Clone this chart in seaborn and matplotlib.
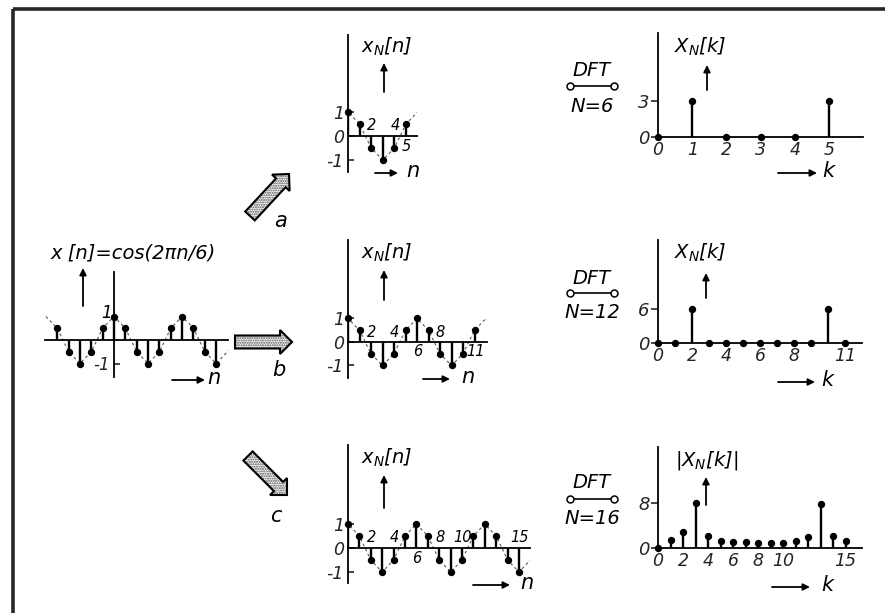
import numpy as np
import pandas as pd
import matplotlib
matplotlib.use("Agg")
import matplotlib.pyplot as plt
from matplotlib.patches import FancyArrow
import seaborn as sns

# ---------------- data ----------------
n_all = list(range(-6, 17))
x_all = [1, .5, -.5, -1, -.5, .5, 1, .5, -.5, -1, -.5, .5, 1, .5, -.5, -1, -.5, .5, 1, .5, -.5, -1, -.5]
left_n_first, left_n_last = -5, 9
N_list = [6, 12, 16]

dft6 = [0, 3, 0, 0, 0, 3]
dft12 = [0, 0, 6, 0, 0, 0, 0, 0, 0, 0, 6, 0]
dft16 = [0, 1.4, 2.8, 8.0, 2.2, 1.2, 1.1, 1.0, 0.95, 0.95, 0.9, 1.2, 2.0, 7.8, 2.1, 1.3]
dft_values = {6: dft6, 12: dft12, 16: dft16}
dft_ytick = {6: 3, 12: 6, 16: 8}
dft_xticks = {6: [0, 1, 2, 3, 4, 5], 12: [0, 2, 4, 6, 8, 11], 16: [0, 2, 4, 6, 8, 10, 15]}
dft_titles = {6: r"$X_N[k]$", 12: r"$X_N[k]$", 16: r"$|X_N[k]|$"}

# n-labels in x_N[n] panels: (n, side)  side +1 above axis, -1 below
xn_labels = {6: [(2, 1), (4, 1), (5, -1)],
             12: [(2, 1), (4, 1), (6, -1), (8, 1), (11, -1)],
             16: [(2, 1), (4, 1), (6, -1), (8, 1), (10, 1), (15, 1)]}

# ---------------- style ----------------
sns.set_theme(style="white")
plt.rcParams["font.family"] = ["DejaVu Sans"]
plt.rcParams["font.style"] = "italic"
plt.rcParams["mathtext.fontset"] = "dejavusans"

W, H = 885, 613
fig = plt.figure(figsize=(W / 100, H / 100), dpi=100)
fig.patch.set_facecolor("white")

# overlay (pixel coordinates) for frame, arrows and annotations
ov = fig.add_axes([0, 0, 1, 1])
ov.set_xlim(0, W)
ov.set_ylim(H, 0)
ov.axis("off")

K = "black"


def panel(box, origin, scale):
    l, r, t, b = box
    X0, Y0 = origin
    sx, sy = scale
    ax = fig.add_axes([l / W, 1 - b / H, (r - l) / W, (b - t) / H])
    ax.set_xlim((l - X0) / sx, (r - X0) / sx)
    ax.set_ylim((Y0 - b) / sy, (Y0 - t) / sy)
    ax.patch.set_alpha(0)
    for s in ["top", "right"]:
        ax.spines[s].set_visible(False)
    for s in ["left", "bottom"]:
        ax.spines[s].set_position(("data", 0))
        ax.spines[s].set_color(K)
        ax.spines[s].set_linewidth(1.3)
    return ax


def stems(ax, n, v, dot=28):
    ax.vlines(n, 0, v, color=K, lw=1.7, zorder=2)
    sns.scatterplot(x=n, y=v, ax=ax, color=K, s=dot, edgecolor=K, linewidth=0,
                    zorder=3, clip_on=False, legend=False)


def envelope(ax):
    sns.lineplot(x=n_all, y=x_all, ax=ax, color="0.35", lw=0.8,
                 linestyle=(0, (2.5, 2.5)), zorder=1, sort=True)


def T(x, y, s, size=13, **kw):
    ov.text(x, y, s, ha="center", va="center", fontsize=size, color=K, **kw)


def up_arrow(x, y0, y1):
    ov.annotate("", xy=(x, y1), xytext=(x, y0),
                arrowprops=dict(arrowstyle="-|>", lw=1.3, color=K,
                                mutation_scale=10, shrinkA=0, shrinkB=0))


def right_arrow(x0, x1, y, letter, lx):
    ov.annotate("", xy=(x1, y), xytext=(x0, y),
                arrowprops=dict(arrowstyle="-|>", lw=1.3, color=K,
                                mutation_scale=10, shrinkA=0, shrinkB=0))
    T(lx, y - 2, letter, size=15)


def big_arrow(x, y, dx, dy):
    kw = dict(width=13, head_width=24, head_length=12, length_includes_head=True)
    ov.add_patch(FancyArrow(x, y, dx, dy, fc="white", ec="0.3", hatch=".......",
                            lw=0, **kw))
    ov.add_patch(FancyArrow(x, y, dx, dy, fc="none", ec=K, lw=1.5, **kw))


# ---------------- frame ----------------
ov.plot([13, 13], [9, H], color="0.15", lw=2.6, solid_capstyle="butt")
ov.plot([13, W], [9, 9], color="0.15", lw=2.6, solid_capstyle="butt")

# ---------------- left panel: x[n] ----------------
axL = panel((45, 228, 272, 377), (114, 340), (11.35, 23.5))
envelope(axL)
nL = [n for n in n_all if left_n_first <= n <= left_n_last]
vL = [x_all[n_all.index(n)] for n in nL]
stems(axL, nL, vL)
axL.set_xticks([])
axL.set_yticks([-1], ["-1"])
axL.tick_params(axis="y", direction="in", length=4, width=1.2, labelsize=12, pad=3,
                left=True)
axL.text(-0.7, 1.15, "1", ha="center", va="center", fontsize=12, color=K)
T(133, 253, "x [n]=cos(2πn/6)", size=14)
up_arrow(83, 306, 268)
right_arrow(172, 205, 380, "n", 214)

# ---------------- x_N[n] panels ----------------
xn_geom = {6: ((348, 417, 35, 172), (348, 136), (11.6, 24), 47, (63, 92), (375, 398, 173, 413)),
           12: ((348, 487, 240, 378), (348, 342), (11.5, 23.5), 253, (270, 300), (423, 450, 379, 468)),
           16: ((348, 530, 445, 583), (348, 548), (11.4, 24), 458, (475, 508), (473, 510, 585, 527))}

for N in N_list:
    box, org, sc, ty, (ya, yb), (rx0, rx1, ry, lx) = xn_geom[N]
    ax = panel(box, org, sc)
    envelope(ax)
    nn = list(range(N))
    vv = [x_all[n_all.index(n)] for n in nn]
    stems(ax, nn, vv)
    ax.set_xticks([])
    ax.set_yticks([-1, 0, 1], ["-1", "0", "1"])
    ax.tick_params(axis="y", direction="in", length=4, width=1.2, labelsize=12.5, pad=3,
                   left=True)
    for n, side in xn_labels[N]:
        ax.text(n + 0.05, 0.42 * side, str(n), ha="center", va="center",
                fontsize=10.5, color=K)
    T(387, ty, r"$x_N[n]$", size=14)
    up_arrow(384, yb, ya)
    right_arrow(rx0, rx1, ry, "n", lx)

# ---------------- DFT panels ----------------
dft_geom = {6: ((658, 863, 33, 137), (658, 137), (34.2, 12.0), 47, (65, 90), 70, 86, 107, (778, 817, 173, 828)),
            12: ((658, 862, 240, 343), (658, 343), (17.0, 5.67), 253, (273, 298), 278, 293, 312, (778, 815, 382, 827)),
            16: ((658, 862, 447, 548), (658, 548), (12.5, 5.6), 460, (477, 505), 483, 499, 519, (772, 810, 587, 827))}

for N in N_list:
    box, org, sc, ty, (ya, yb), yd, yl, yn, (rx0, rx1, ry, lx) = dft_geom[N]
    ax = panel(box, org, sc)
    kk = list(range(N))
    stems(ax, kk, dft_values[N])
    ax.set_xticks(dft_xticks[N], [str(k) for k in dft_xticks[N]])
    ax.set_yticks([0, dft_ytick[N]], ["0", str(dft_ytick[N])])
    ax.tick_params(axis="x", length=0, labelsize=12.5, pad=3, bottom=True)
    ax.tick_params(axis="y", direction="out", length=5, width=1.2, labelsize=13, pad=1,
                   left=True)
    T(700 if N < 16 else 707, ty, dft_titles[N], size=14)
    up_arrow(707 if N == 6 else 706, yb, ya)
    right_arrow(rx0, rx1, ry, "k", lx)
    # DFT correspondence symbol
    T(592, yd, "DFT", size=14)
    ov.plot([570, 614], [yl, yl], color=K, lw=1.2, marker="o", mfc="white",
            mec=K, ms=5, mew=1.1)
    T(592, yn, f"N={N}", size=14)

# ---------------- big arrows a, b, c ----------------
big_arrow(250, 216, 39, -42)
T(281, 221, "a", size=15)
big_arrow(235, 342, 57, 0)
T(279, 370, "b", size=15)
big_arrow(248, 456, 39, 39)
T(276, 516, "c", size=15)

fig.savefig("out.png", dpi=100, facecolor="white")
